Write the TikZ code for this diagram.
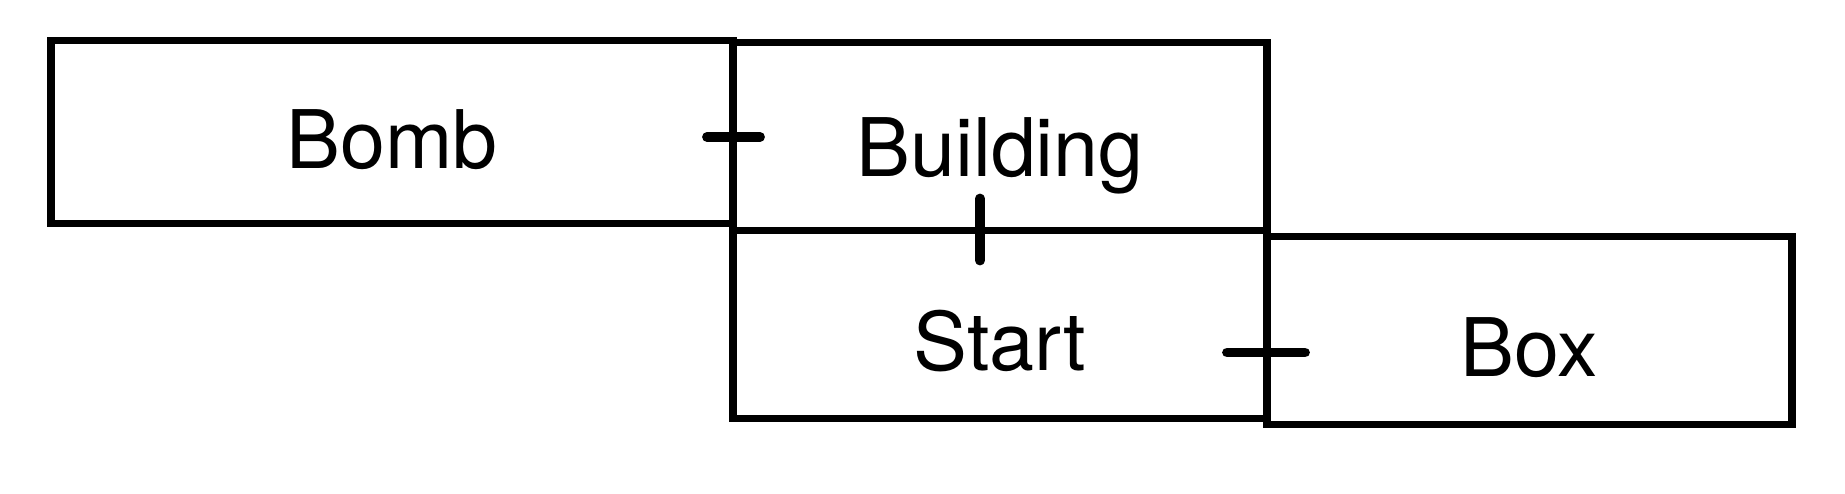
\documentclass[tikz,border=0pt]{standalone}
\usepackage{fontspec}
\setmainfont{TeX Gyre Heros}
\usepackage{tikz}
\usetikzlibrary{positioning}
\tikzstyle{cell} = [rectangle, draw, line width=2.2pt, inner sep=0pt, outer sep=0pt,
    text centered, minimum height=1.88cm, text height=0.73cm, text depth=0cm,
    font=\fontsize{23}{27}\selectfont]
\tikzstyle{tick} = [draw, line width=2.8pt, line cap=round]

\begin{document}
\begin{tikzpicture}[node distance=0cm,auto]
  \useasboundingbox (0,0) rectangle (18.45,-4.94);
      \node [cell, minimum width=6.82cm, minimum height=1.83cm] (bomb) at (3.92,-1.32) {Bomb\hspace{0.16cm}};
      \node [cell, anchor=north west, yshift=-0.02cm, minimum width=5.34cm, text height=0.79cm] (building) at (bomb.north east) {Building};
      \node [cell, below=0cm of building, minimum width=5.34cm, text height=0.92cm] (start) {Start};
      \node [cell, right=0cm of start, yshift=-0.06cm, minimum width=5.25cm, text height=0.92cm] (box) {Box\hspace{0.34cm}};

      % joints
      \path [tick] ([shift={(-0.26,-0.05)}]bomb.east) -- ([shift={(0.27,-0.05)}]bomb.east);
      \path [tick] ([shift={(-0.20,0.32)}]building.south) -- ([shift={(-0.20,-0.30)}]building.south);
      \path [tick] ([shift={(-0.40,-0.28)}]start.east) -- ([shift={(0.38,-0.28)}]start.east);
\end{tikzpicture}
\end{document}
